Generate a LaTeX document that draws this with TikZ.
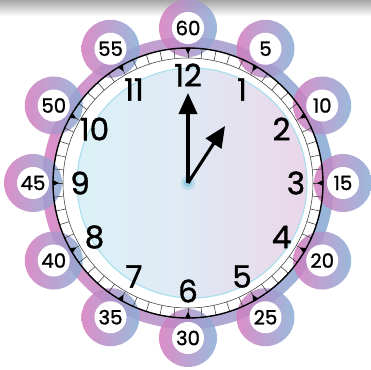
\documentclass[tikz,border=0pt]{standalone}
\usepackage{fontspec}
\setmainfont{Poppins}
\newfontfamily\clockfont{Poppins}[FakeBold=1.2]
\usetikzlibrary{arrows.meta}

\definecolor{ringpink}{HTML}{D57BBE}
\definecolor{ringblue}{HTML}{8AAED6}
\definecolor{bandpink}{HTML}{D885C4}
\definecolor{bandblue}{HTML}{8BB0D6}
\definecolor{facecyan}{HTML}{DCF1F7}
\definecolor{facepink}{HTML}{EAD6E9}
\definecolor{facerim}{HTML}{A9DEEC}
\definecolor{dotblue}{HTML}{8FCBE3}

\begin{document}
\begin{tikzpicture}[
  x=0.025cm, y=-0.025cm,
  hournum/.style={inner sep=0pt, font=\clockfont\fontsize{22}{22}\selectfont},
  minring/.style={circle, minimum size=1.45cm, inner sep=0pt, left color=ringpink, right color=ringblue, opacity=0.85},
  minlab/.style ={circle, fill=white, minimum size=0.8cm, inner sep=0pt, font=\clockfont\fontsize{14}{14}\selectfont},
  tick/.style   ={line width=0.4pt, black!75},
  hand/.style   ={line width=2.2pt, -{Triangle[length=15pt, width=13pt]}},
]
  \useasboundingbox[fill=white] (-188,-183) rectangle (183,187);
  \coordinate (o) at (0,0);

  % shadow along the top edge
  \fill[top color=black!35, bottom color=white] (-188,-183) rectangle (183,-167);

  % face
  \draw[facerim, line width=0.8pt, left color=facecyan, right color=facepink, middle color=facecyan!70!facepink]
    (4,0) circle (115);

  % minute track and outer band
  \fill[white, even odd rule] (o) circle (135) (o) circle (125);
  \path[left color=bandpink, right color=bandblue, opacity=0.9, even odd rule] (o) circle (146) (o) circle (135);

  % five-minute rings
  \foreach \h [evaluate=\h as \m using int(5*\h)] in {1,...,12}
    \node[minring] (r\m) at ({30*\h-90}:155) {};
  \foreach \h [evaluate=\h as \m using int(5*\h)] in {1,...,12}
    \node[minlab] (m\m) at (r\m) {\m};

  \foreach \k in {1,...,60}
    \draw[tick] ({6*\k}:125) -- ({6*\k}:135);
  \draw[tick] (o) circle (125);
  \draw[line width=1pt] (o) circle (135);
  \foreach \h in {1,...,12}
    \fill ({30*\h-91.3}:135.5) -- ({30*\h-88.7}:135.5) -- ({30*\h-90}:129) -- cycle;

  % hours
  \foreach \h in {1,...,12}
    \node[hournum] (h\h) at ({30*\h-90}:108) {\h};

  % hands
  \coordinate (mtip) at (-90:90);
  \coordinate (htip) at (-57:68);
  \fill[dotblue, opacity=0.45] (o) circle (7);
  \fill[dotblue] (o) circle (4);
  \draw[hand] (o) -- (mtip);
  \draw[hand] (o) -- (htip);
\end{tikzpicture}
\end{document}
